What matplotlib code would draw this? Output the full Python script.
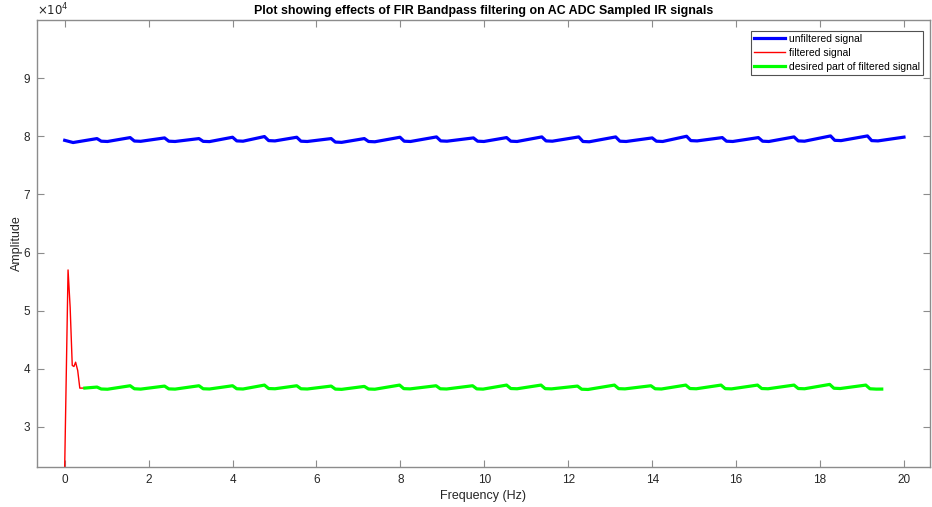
import matplotlib
matplotlib.use('Agg')
import matplotlib.pyplot as plt
from matplotlib.ticker import FuncFormatter

# Unfiltered signal (blue) - vertices
blue_x = [0.00, 0.20,
          0.77, 0.87, 1.02, 1.56, 1.66, 1.81, 2.38, 2.48, 2.63, 3.20, 3.30, 3.45,
          4.00, 4.10, 4.25, 4.76, 4.86, 5.01, 5.53, 5.63, 5.78, 6.35, 6.45, 6.60,
          7.14, 7.24, 7.39, 7.99, 8.09, 8.24, 8.86, 8.96, 9.11, 9.74, 9.84, 9.99,
          10.53, 10.63, 10.78, 11.37, 11.47, 11.62, 12.25, 12.35, 12.50, 13.13, 13.23, 13.38,
          14.00, 14.10, 14.25, 14.82, 14.92, 15.07, 15.67, 15.77, 15.92, 16.53, 16.63, 16.78,
          17.38, 17.48, 17.63, 18.25, 18.35, 18.50, 19.13, 19.23, 19.38, 20.00]
blue_y = [79300, 78920,
          79600, 79150, 79100, 79770, 79180, 79130, 79715, 79150, 79100, 79600, 79120, 79080,
          79830, 79200, 79150, 79950, 79250, 79200, 79830, 79150, 79100, 79600, 79000, 78950,
          79600, 79100, 79050, 79830, 79150, 79100, 79886, 79200, 79150, 79714, 79150, 79100,
          79771, 79150, 79100, 79886, 79200, 79150, 79886, 79100, 79050, 79886, 79150, 79100,
          79714, 79150, 79100, 80000, 79250, 79200, 79771, 79150, 79100, 79771, 79150, 79100,
          79886, 79200, 79150, 80057, 79300, 79250, 80057, 79250, 79200, 79850]

# Filtered signal (red) - start-up transient
red_x = [0.00, 0.08, 0.13, 0.18, 0.22, 0.26, 0.31, 0.36, 0.48]
red_y = [23100, 57000, 50560, 40570, 40390, 41130, 39700, 36670, 36680]

# Desired part of filtered signal (green)
green_x = [0.48,
           0.77, 0.87, 1.02, 1.56, 1.66, 1.81, 2.38, 2.48, 2.63, 3.20, 3.30, 3.45,
           4.00, 4.10, 4.25, 4.76, 4.86, 5.01, 5.53, 5.63, 5.78, 6.35, 6.45, 6.60,
           7.14, 7.24, 7.39, 7.98, 8.08, 8.23, 8.85, 8.95, 9.10, 9.72, 9.82, 9.97,
           10.53, 10.63, 10.78, 11.35, 11.45, 11.60, 12.22, 12.32, 12.47, 13.10, 13.20, 13.35,
           13.97, 14.07, 14.22, 14.80, 14.90, 15.05, 15.64, 15.74, 15.89, 16.51, 16.61, 16.76,
           17.38, 17.48, 17.63, 18.23, 18.33, 18.48, 19.09, 19.19, 19.34, 19.47]
green_y = [36680,
           36850, 36520, 36480, 37079, 36560, 36500, 37022, 36540, 36500, 37079, 36560, 36520,
           37079, 36560, 36520, 37193, 36600, 36560, 37079, 36560, 36520, 37022, 36500, 36460,
           36965, 36520, 36480, 37193, 36580, 36540, 37079, 36560, 36520, 37079, 36540, 36500,
           37193, 36600, 36560, 37193, 36580, 36540, 37022, 36480, 36440, 37193, 36580, 36540,
           37079, 36560, 36520, 37193, 36600, 36560, 37193, 36580, 36540, 37193, 36600, 36560,
           37193, 36600, 36560, 37307, 36650, 36600, 37193, 36560, 36500, 36507]

x_ticks = [0, 2, 4, 6, 8, 10, 12, 14, 16, 18, 20]
y_ticks = [30000, 40000, 50000, 60000, 70000, 80000, 90000]

plt.rcParams['font.family'] = ['Liberation Sans', 'DejaVu Sans']

fig = plt.figure(figsize=(9.32, 5.07), dpi=100)
ax = fig.add_axes([37 / 932, 40 / 507, 893 / 932, 447 / 507])

ax.plot(blue_x, blue_y, color='#0000ff', lw=2.3, label='unfiltered signal')
ax.plot(red_x, red_y, color='#ff0000', lw=1, label='filtered signal')
ax.plot(green_x, green_y, color='#00ff00', lw=2.3, label='desired part of filtered signal')

ax.set_xlim(-0.66, 20.62)
ax.set_ylim(23100, 100000)
ax.set_xticks(x_ticks)
ax.set_yticks(y_ticks)
ax.yaxis.set_major_formatter(FuncFormatter(lambda v, p: f'{v / 1e4:g}'))

axis_col = '#262626'
for s in ax.spines.values():
    s.set_color('#8c8c8c')
    s.set_linewidth(1)
ax.tick_params(direction='in', length=5, width=0.8, color='#8c8c8c',
               labelsize=8.5, labelcolor=axis_col, top=True, right=True, pad=5)

ax.text(0, 1.004, r'$\times 10^4$', transform=ax.transAxes, fontsize=8.5,
        color=axis_col, ha='left', va='bottom')

ax.set_title('Plot showing effects of FIR Bandpass filtering on AC ADC Sampled IR signals',
             fontsize=8.9, fontweight='bold', color='#000000', pad=4)
ax.set_xlabel('Frequency (Hz)', fontsize=9, color=axis_col, labelpad=3)
ax.set_ylabel('Amplitude', fontsize=9, color=axis_col, labelpad=0)

leg = ax.legend(loc='upper right', bbox_to_anchor=(0.9922, 0.976), fontsize=7.5,
                frameon=True, fancybox=False, borderpad=0.3, labelspacing=0.38,
                handlelength=3.0, handletextpad=0.35, borderaxespad=0)
leg.get_frame().set_edgecolor('#262626')
leg.get_frame().set_linewidth(0.8)

fig.savefig('out.png', dpi=100)
plt.close(fig)
